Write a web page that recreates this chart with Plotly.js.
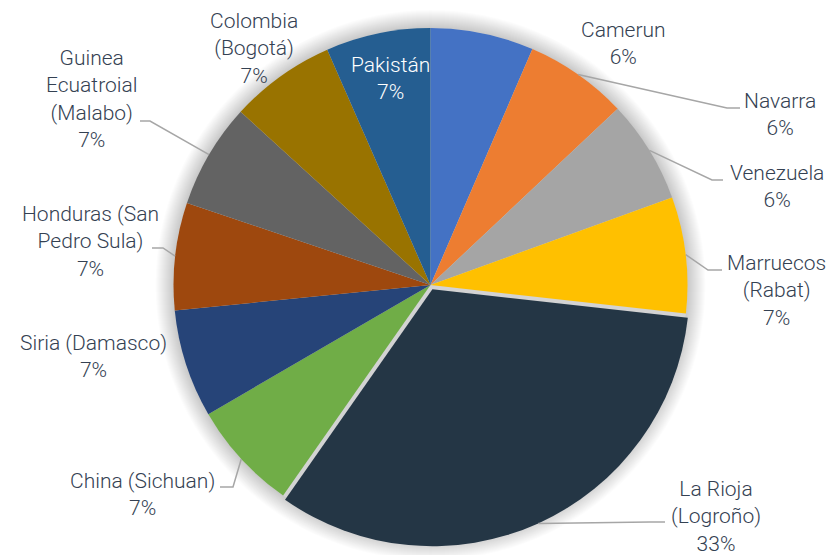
<!DOCTYPE html>
<html><head><meta charset="utf-8">
<script src="https://cdn.plot.ly/plotly-3.0.1.min.js"></script>
<style>html,body{margin:0;padding:0;background:#fff}#chart{width:829px;height:555px}</style>
</head><body><div id="chart"></div>
<script>
// ---- data ----
const labels = ["Camerun","Navarra","Venezuela","Marruecos (Rabat)","La Rioja (Logroño)","China (Sichuan)","Siria (Damasco)","Honduras (San Pedro Sula)","Guinea Ecuatroial (Malabo)","Colombia (Bogotá)","Pakistán"];
const labelText = ["Camerun","Navarra","Venezuela","Marruecos<br>(Rabat)","La Rioja<br>(Logroño)","China (Sichuan)","Siria (Damasco)","Honduras (San<br>Pedro Sula)","Guinea<br>Ecuatroial<br>(Malabo)","Colombia<br>(Bogotá)","Pakistán"];
const values = [6.49, 6.49, 6.49, 7.3, 32.95, 6.9, 6.8, 6.75, 6.6, 6.65, 6.58];
const colors = ["#4472C4","#ED7D31","#A5A5A5","#FFC000","#243645","#70AD47","#264478","#9E480E","#636363","#997300","#255E91"];
const pulls = [0,0,0,0,0.018,0,0,0,0,0,0];

// ---- layout (pixels) ----
const W = 829, H = 555;
const cx = 430.5, cy = 285, R = 257;
const maxPull = Math.max(...pulls);
const half = R * (1 + maxPull);
// label centers [x,y] in px
const labelPos = [[623,44],[780,114],[777,186],[776,290],[716,516],[142,494],[93,356],[90,241],[91,99],[254,48],[390,78]];
// leader line: [anchorX, anchorY, elbowX] or null
const leader = [null,[740,108,727],[723,180,712],[722,270,708],[665,522,650],[220,487,233],null,[152,248,163],[140,121,150],null,null];
const textColor = "#344152";

const px = x => x / W, py = y => 1 - y / H;
const total = values.reduce((a,b)=>a+b,0);

const annotations = [], shapes = [];
// soft shadow around pie
for (let k = 18; k >= 1; k--) {
  shapes.push({type:'circle', xref:'paper', yref:'paper', layer:'below',
    x0:px(cx-R-k), x1:px(cx+R+k), y0:py(cy+R+k), y1:py(cy-R-k),
    fillcolor:'rgba(0,0,0,0.011)', line:{width:0}});
}
shapes.push({type:'circle', xref:'paper', yref:'paper', layer:'below',
  x0:px(cx-R), x1:px(cx+R), y0:py(cy+R), y1:py(cy-R), fillcolor:'#d3d3d3', line:{width:0}});

let cum = 0;
values.forEach((v,i)=>{
  const mid = (cum + v/2) / total * 2 * Math.PI;
  cum += v;
  const rr = R * (1 + pulls[i]);
  const ex = cx + rr * Math.sin(mid), ey = cy - rr * Math.cos(mid);
  const pct = Math.round(v / total * 100) + '%';
  annotations.push({xref:'paper', yref:'paper', x:px(labelPos[i][0]), y:py(labelPos[i][1]),
    xanchor:'center', yanchor:'middle', showarrow:false, align:'center',
    text: labelText[i] + '<br>' + pct,
    font:{family:'Roboto, "Open Sans", sans-serif', size:21, weight:300, color: i===10 ? '#ffffff' : textColor}});
  if (leader[i]) {
    const [ax, ay, bx] = leader[i];
    shapes.push({type:'path', xref:'paper', yref:'paper', layer:'above',
      path:`M${px(ex)},${py(ey)} L${px(bx)},${py(ay)} L${px(ax)},${py(ay)}`,
      line:{color:'#a6a6a6', width:1.5}});
  }
});

const trace = {
  type:'pie', labels: labels, values: values, sort:false, direction:'clockwise', rotation:0,
  pull: pulls, marker:{colors: colors, line:{width:0}},
  textinfo:'none', hoverinfo:'label+percent', showlegend:false,
  domain:{x:[px(cx-half), px(cx+half)], y:[py(cy+half), py(cy-half)]}
};

Plotly.newPlot('chart', [trace], {
  width:W, height:H, margin:{l:0,r:0,t:0,b:0},
  paper_bgcolor:'#ffffff', plot_bgcolor:'#ffffff', showlegend:false,
  annotations: annotations, shapes: shapes
}, {staticPlot:true});
</script></body></html>
